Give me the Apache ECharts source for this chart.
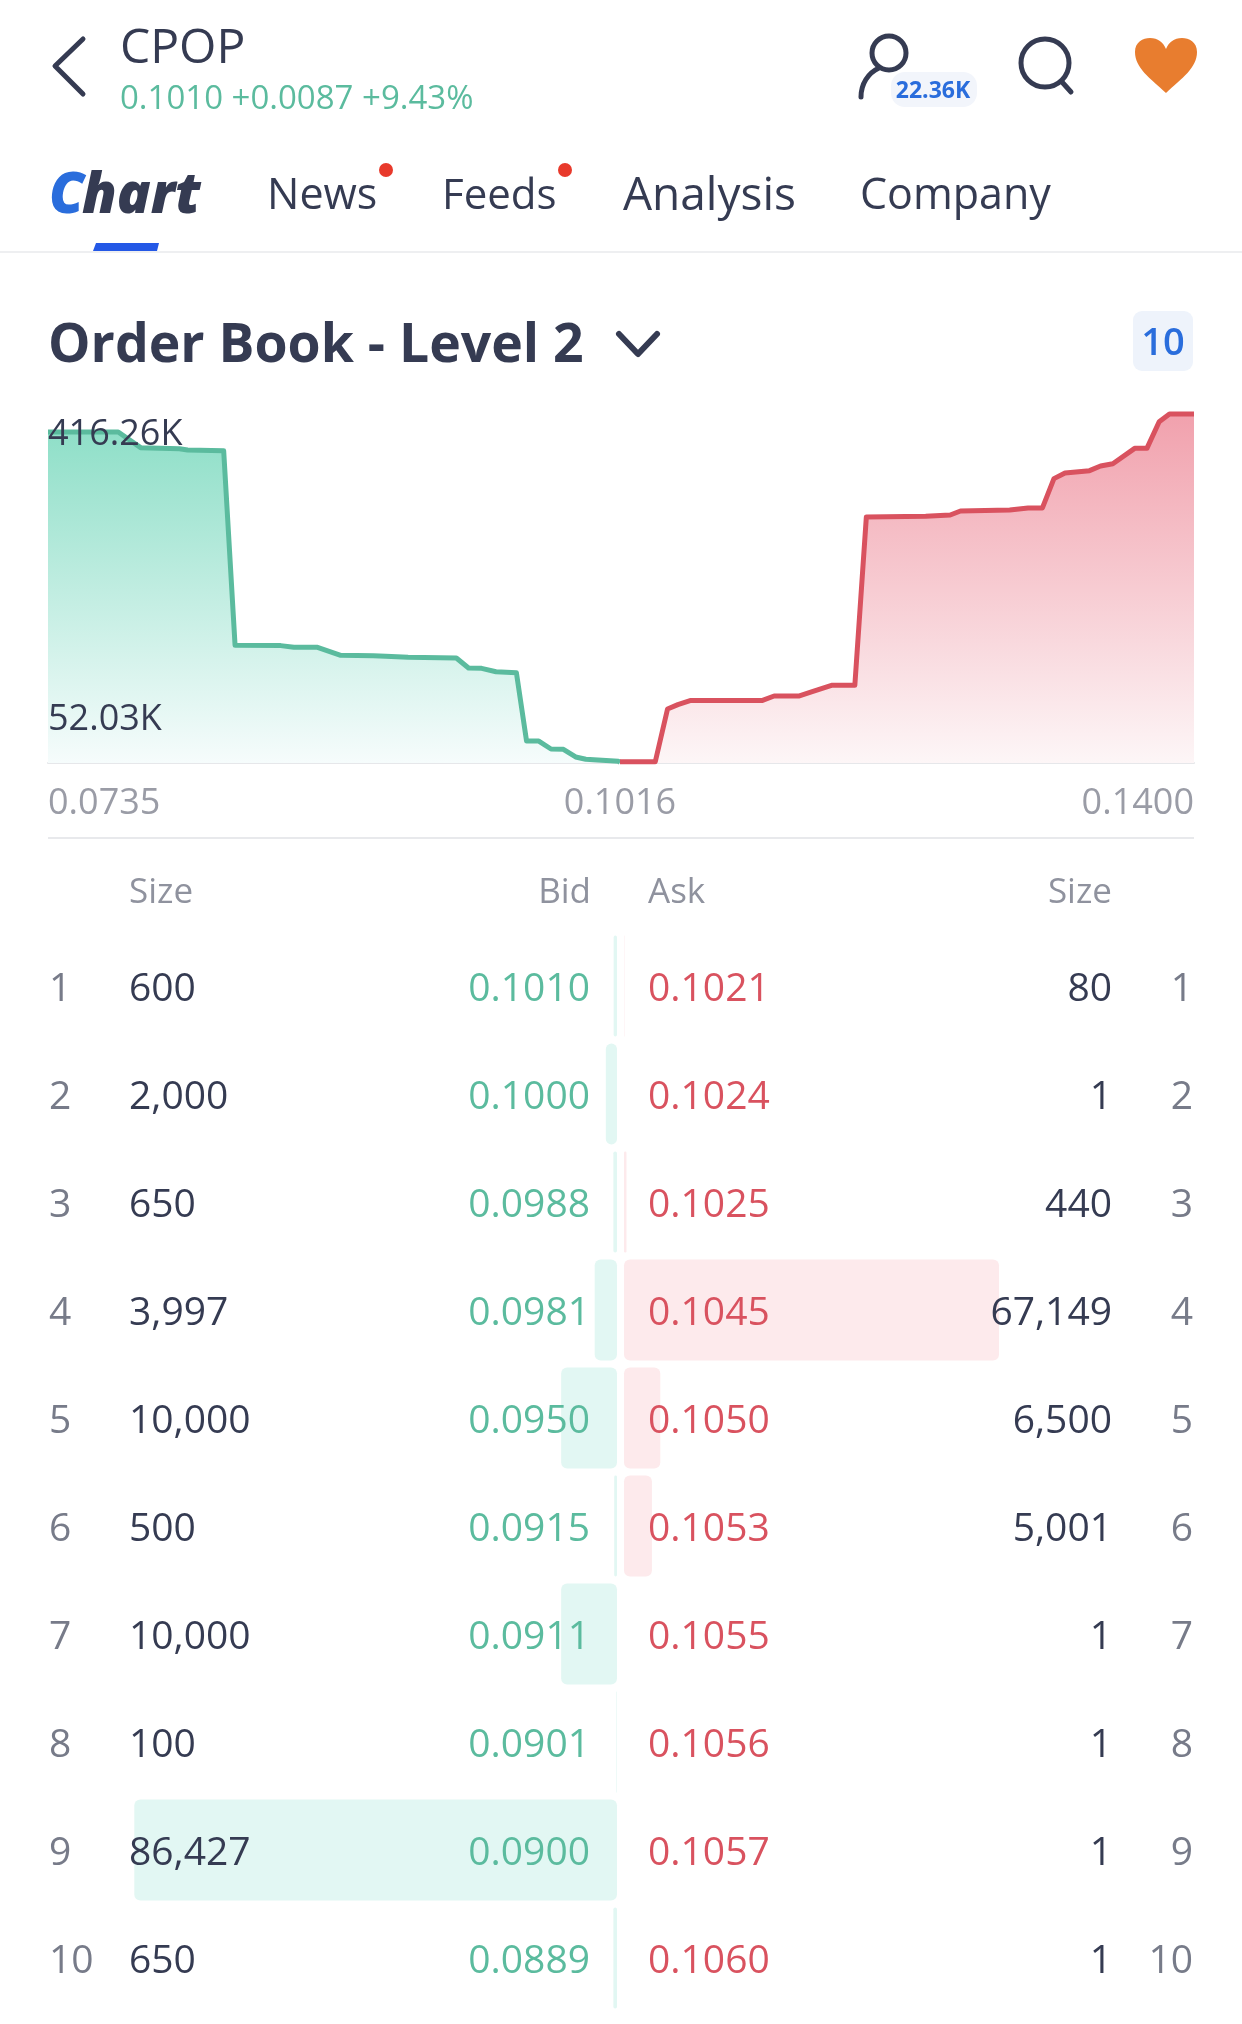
<!DOCTYPE html>
<html>
<head>
<meta charset="utf-8">
<style>
  html, body { margin: 0; padding: 0; background: #fff; }
  #main { width: 1242px; height: 2024px; }
</style>
<script src="https://cdn.jsdelivr.net/npm/echarts@6/dist/echarts.min.js"></script>
</head>
<body>
<div id="main"></div>
<script>
// depth curve: [price, cumulative size]
const bidDepth = [
  [0.0735, 394800], [0.07695, 394800], [0.07805, 376100], [0.07996, 374900], [0.08036, 373300],
  [0.08213, 372500], [0.08269, 140400], [0.08493, 140000], [0.08558, 138000], [0.08674, 138000],
  [0.08788, 128400], [0.08949, 128000], [0.09009, 127200], [0.09119, 126000], [0.09356, 125200],
  [0.09416, 113300], [0.0948, 112900], [0.09551, 108900], [0.09651, 107700], [0.09701, 26200],
  [0.09761, 26200], [0.09821, 16700], [0.09882, 16300], [0.09942, 7200], [0.09992, 4400],
  [0.10152, 2000], [0.1016, 600]
];
const askDepth = [
  [0.1016, 1500], [0.10396, 1500], [0.10478, 64400], [0.10547, 69600], [0.10629, 74400],
  [0.11109, 74400], [0.11191, 79900], [0.11355, 79900], [0.11451, 85500], [0.11575, 92600],
  [0.11731, 92600], [0.11808, 293400], [0.12205, 294200], [0.12369, 295800], [0.12438, 300600],
  [0.12767, 301800], [0.1289, 304200], [0.12986, 304200], [0.13063, 339200], [0.13137, 345900],
  [0.13301, 348700], [0.13375, 354300], [0.13457, 357000], [0.13603, 375300], [0.13685, 375300],
  [0.13767, 407100], [0.13836, 416260], [0.14, 416260]
];
const depthLabels = [52030, 416260];

// level 2 table
const ranks = [1, 2, 3, 4, 5, 6, 7, 8, 9, 10];
const bidSizes = [600, 2000, 650, 3997, 10000, 500, 10000, 100, 86427, 650];
const bidPrices = ['0.1010', '0.1000', '0.0988', '0.0981', '0.0950', '0.0915', '0.0911', '0.0901', '0.0900', '0.0889'];
const askPrices = ['0.1021', '0.1024', '0.1025', '0.1045', '0.1050', '0.1053', '0.1055', '0.1056', '0.1057', '0.1060'];
const askSizes = [80, 1, 440, 67149, 6500, 5001, 1, 1, 1, 1];

const FONT = '"Open Sans"';
const DARK = '#353b52';
const GREY = '#777b89';
const GREEN = '#5bbb9e';
const RED = '#d9525f';
const BLUE = '#2a6ddc';

const fmt = n => n.toLocaleString('en-US');
const fmtK = v => (v / 1000).toFixed(2) + 'K';

// +4: Open Sans sits high with a middle baseline
const txt = (text, x, y, font, fill, align) => ({
  type: 'text', silent: true,
  style: { text, x, y: y + 4, font, fill, align: align || 'left', verticalAlign: 'middle' }
});
const stroke = (pathData, color, width) => ({
  type: 'path', silent: true, shape: { pathData },
  style: { fill: null, stroke: color, lineWidth: width, lineCap: 'round', lineJoin: 'round' }
});

const chart = echarts.init(document.getElementById('main'), null, { renderer: 'canvas' });

const grad = (top, bottom) => new echarts.graphic.LinearGradient(0, 0, 0, 1, [
  { offset: 0, color: top }, { offset: 1, color: bottom }
]);

const rowText = (cols) => (params, api) => {
  const i = api.value(1);
  const y = api.coord([0, i])[1];
  return { type: 'group', children: cols(i, y) };
};
const rowData = ranks.map((r, i) => [0, i]);
const rowFont = '400 39px ' + FONT;

const hiddenValue = { show: false };

const option = {
  animation: false,
  backgroundColor: '#fff',
  textStyle: { fontFamily: FONT },
  grid: [
    { left: 48, width: 572, top: 414, height: 349 },
    { left: 620, width: 574, top: 414, height: 349 },
    { left: 0, width: 617, top: 932, height: 1080 },
    { left: 624, width: 617, top: 932, height: 1080 }
  ],
  xAxis: [
    {
      type: 'value', gridIndex: 0, min: 0.0735, max: 0.1016, splitLine: hiddenValue,
      axisTick: hiddenValue, axisLine: { show: true, onZero: false, lineStyle: { color: '#e6e7ea', width: 2 } },
      axisLabel: {
        customValues: [0.0735], formatter: v => v.toFixed(4), alignMinLabel: 'left',
        color: '#9a9ca6', fontSize: 36, fontFamily: FONT, margin: 23, verticalAlign: 'top'
      }
    },
    {
      type: 'value', gridIndex: 1, min: 0.1016, max: 0.14, splitLine: hiddenValue,
      axisTick: hiddenValue, axisLine: { show: true, onZero: false, lineStyle: { color: '#e6e7ea', width: 2 } },
      axisLabel: {
        customValues: [0.1016, 0.14], formatter: v => v.toFixed(4), alignMinLabel: 'center', alignMaxLabel: 'right',
        color: '#9a9ca6', fontSize: 36, fontFamily: FONT, margin: 23, verticalAlign: 'top'
      }
    },
    { type: 'value', gridIndex: 2, inverse: true, min: 0, max: 110475, show: false },
    { type: 'value', gridIndex: 3, min: 0, max: 110475, show: false }
  ],
  yAxis: [
    {
      type: 'value', gridIndex: 0, min: 0, max: 416260, z: 6, splitLine: hiddenValue,
      axisLine: hiddenValue, axisTick: hiddenValue,
      axisLabel: {
        inside: true, customValues: depthLabels, formatter: fmtK, margin: 0, align: 'left', padding: [3, 0, 0, 0],
        color: DARK, fontSize: 36, fontFamily: FONT, verticalAlignMaxLabel: 'top', showMaxLabel: true
      }
    },
    { type: 'value', gridIndex: 1, min: 0, max: 416260, show: false },
    { type: 'category', gridIndex: 2, inverse: true, data: ranks, show: false },
    { type: 'category', gridIndex: 3, inverse: true, data: ranks, show: false }
  ],
  series: [
    {
      type: 'line', xAxisIndex: 0, yAxisIndex: 0, data: bidDepth, symbol: 'none', clip: false, z: 3,
      lineStyle: { color: GREEN, width: 5, join: 'round' },
      areaStyle: { color: grad('#8fdfc8', '#f6fcfc'), opacity: 1 }
    },
    {
      type: 'line', xAxisIndex: 1, yAxisIndex: 1, data: askDepth, symbol: 'none', clip: false, z: 3,
      lineStyle: { color: RED, width: 5, join: 'round' },
      areaStyle: { color: grad('#f1a1ad', '#fdf6f7'), opacity: 1 }
    },
    {
      type: 'bar', xAxisIndex: 2, yAxisIndex: 2, data: bidSizes, barWidth: 101, z: 2,
      itemStyle: { color: '#e2f7f3', borderRadius: 6 }
    },
    {
      type: 'bar', xAxisIndex: 3, yAxisIndex: 3, data: askSizes, barWidth: 101, z: 2,
      itemStyle: { color: '#fdeaec', borderRadius: 6 }
    },
    {
      type: 'custom', xAxisIndex: 2, yAxisIndex: 2, data: rowData, clip: false, z: 5, encode: { x: 0, y: 1 },
      renderItem: rowText((i, y) => [
        txt(String(ranks[i]), 49, y, rowFont, GREY),
        txt(fmt(bidSizes[i]), 129, y, rowFont, DARK),
        txt(bidPrices[i], 590, y, rowFont, GREEN, 'right')
      ])
    },
    {
      type: 'custom', xAxisIndex: 3, yAxisIndex: 3, data: rowData, clip: false, z: 5, encode: { x: 0, y: 1 },
      renderItem: rowText((i, y) => [
        txt(askPrices[i], 648, y, rowFont, RED),
        txt(fmt(askSizes[i]), 1112, y, rowFont, DARK, 'right'),
        txt(String(ranks[i]), 1193, y, rowFont, GREY, 'right')
      ])
    },
    {
      // icons: the graphic component has no free path type, a custom series does
      type: 'custom', coordinateSystem: 'none', data: [0], silent: true, z: 6,
      renderItem: () => ({
        type: 'group',
        children: [
          stroke('M83 39 L55 66 L83 94', DARK, 5),
          stroke('M879 68 C868 73 861 84 861 97', DARK, 5),
          stroke('M1062 82 L1071 92', DARK, 5),
          stroke('M619 334 L638 354 L657 334', DARK, 6),
          {
            type: 'path', silent: true,
            shape: { pathData: 'M1166 93 C1150 78 1135 68 1135 52 C1135 42 1143 38 1150 38 C1158 38 1163 42 1166 49 C1169 42 1174 38 1182 38 C1189 38 1197 42 1197 52 C1197 68 1182 78 1166 93 Z' },
            style: { fill: '#e87d2f' }
          }
        ]
      })
    }
  ],
  graphic: [
    // header
    txt('CPOP', 120, 45, '400 48px ' + FONT, DARK),
    txt('0.1010 +0.0087 +9.43%', 120, 96, '400 33px ' + FONT, GREEN),
    { type: 'circle', silent: true, shape: { cx: 889, cy: 53, r: 17 }, style: { fill: null, stroke: DARK, lineWidth: 5 } },
    { type: 'rect', silent: true, z: 7, shape: { x: 891, y: 72, width: 86, height: 35, r: 14 }, style: { fill: '#f2f5fb' } },
    { ...txt('22.36K', 933, 87, '700 23px ' + FONT, BLUE, 'center'), z: 8 },
    { type: 'circle', silent: true, shape: { cx: 1045, cy: 63, r: 24 }, style: { fill: null, stroke: DARK, lineWidth: 5 } },
    // tabs
    txt('C', 49, 193, 'italic 800 56px ' + FONT, BLUE),
    txt('hart', 82, 193, 'italic 800 56px ' + FONT, DARK),
    txt('News', 267, 193, '400 43px ' + FONT, DARK),
    txt('Feeds', 442, 193, '400 42px ' + FONT, DARK),
    txt('Analysis', 623, 193, '400 46px ' + FONT, DARK),
    txt('Company', 860, 193, '400 43px ' + FONT, DARK),
    { type: 'circle', silent: true, shape: { cx: 386, cy: 170, r: 7 }, style: { fill: '#e8392b' } },
    { type: 'circle', silent: true, shape: { cx: 565, cy: 170, r: 7 }, style: { fill: '#e8392b' } },
    { type: 'polygon', silent: true, shape: { points: [[96, 243], [159, 243], [157, 251], [93, 251]] }, style: { fill: '#2458e6' } },
    { type: 'line', silent: true, shape: { x1: 0, y1: 252, x2: 1242, y2: 252 }, style: { stroke: '#eeeff1', lineWidth: 2 } },
    // order book title
    txt('Order Book - Level 2', 48, 343, '700 53.5px ' + FONT, DARK),
    { type: 'rect', silent: true, shape: { x: 1133, y: 311, width: 60, height: 60, r: 9 }, style: { fill: '#eef3fb' } },
    txt('10', 1163, 340, '600 38px ' + FONT, BLUE, 'center'),
    // table head
    { type: 'line', silent: true, shape: { x1: 48, y1: 838, x2: 1194, y2: 838 }, style: { stroke: '#e8e9ec', lineWidth: 2 } },
    txt('Size', 129, 889, '400 35px ' + FONT, '#8f929e'),
    txt('Bid', 591, 889, '400 35px ' + FONT, '#8f929e', 'right'),
    txt('Ask', 648, 889, '400 35px ' + FONT, '#8f929e'),
    txt('Size', 1112, 889, '400 35px ' + FONT, '#8f929e', 'right')
  ]
};

chart.setOption(option);
</script>
</body>
</html>
